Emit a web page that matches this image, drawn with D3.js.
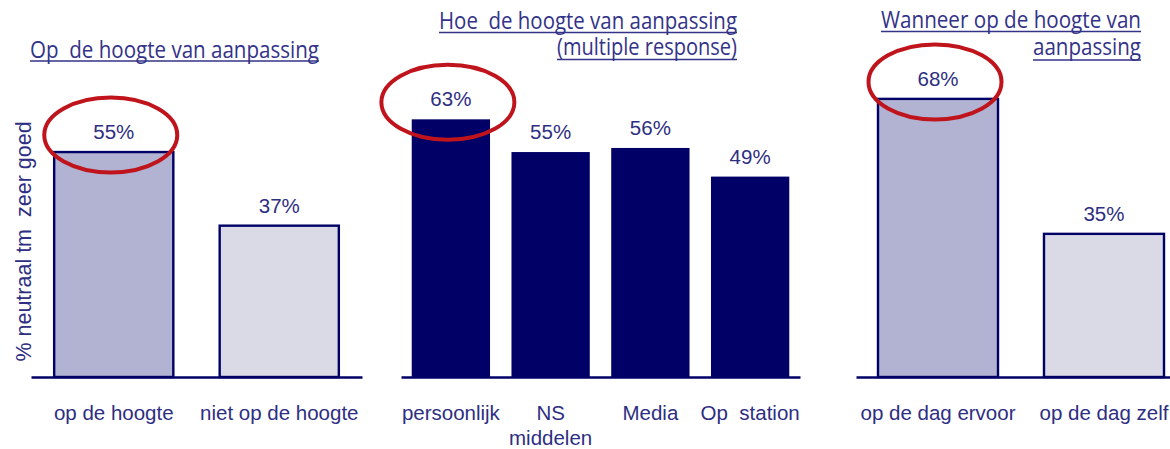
<!DOCTYPE html>
<html>
<head>
<meta charset="utf-8">
<script src="https://cdn.jsdelivr.net/npm/d3@7/dist/d3.min.js"></script>
<style>
  html, body { margin: 0; padding: 0; background: #ffffff; }
  svg { display: block; }
</style>
</head>
<body>
<svg id="chart" width="1170" height="449"></svg>
<script>
// ---- data ----
const cats1 = ["op de hoogte", "niet op de hoogte"];
const vals1 = [55, 37];
const title1 = ["Op  de hoogte van aanpassing"];

const cats2 = ["persoonlijk", "NS\nmiddelen", "Media", "Op  station"];
const vals2 = [63, 55, 56, 49];
const title2 = ["Hoe  de hoogte van aanpassing", "(multiple response)"];

const cats3 = ["op de dag ervoor", "op de dag zelf"];
const vals3 = [68, 35];
const title3 = ["Wanneer op de hoogte van", "aanpassing"];

const yLabel = "% neutraal tm  zeer goed";
const highlighted = ["op de hoogte", "persoonlijk", "op de dag ervoor"];

// ---- style ----
const NAVY = "#000066";
const TEXT = "#2E2E82";
const TITLE = "#333388";
const RED = "#C0141C";
const fills1 = ["#B2B2D2", "#DADAE7"];
const fills2 = [NAVY, NAVY, NAVY, NAVY];
const fills3 = ["#B2B2D2", "#DADAE7"];

const svg = d3.select("#chart");
const baseY = 377;
const y = d3.scaleLinear().domain([0, 100]).range([baseY, baseY - 409]);

const panels = [
  { cats: cats1, vals: vals1, fills: fills1, range: [31, 362], pi: 0.28, po: 0.14, stroke: 2.4,
    title: title1, tAnchor: "start", tx: 30, tBase: [58], tUnder: [61], tWidth: [289] },
  { cats: cats2, vals: vals2, fills: fills2, range: [401, 800], pi: 0.215, po: 0.1075, stroke: 0,
    title: title2, tAnchor: "end", tx: 737, tBase: [29, 55], tUnder: [32.5, 59.5], tWidth: [298, 180] },
  { cats: cats3, vals: vals3, fills: fills3, range: [856, 1186], pi: 0.277, po: 0.1325, stroke: 2.4,
    title: title3, tAnchor: "end", tx: 1141, tBase: [28, 55], tUnder: [31.5, 60], tWidth: [260, 108] }
];

panels.forEach(p => {
  const x = d3.scaleBand().domain(p.cats).range(p.range).paddingInner(p.pi).paddingOuter(p.po);
  const g = svg.append("g");
  const data = p.cats.map((c, i) => ({ c, v: p.vals[i], f: p.fills[i] }));

  // bars
  g.selectAll("rect.bar").data(data).enter().append("rect")
    .attr("class", "bar")
    .attr("x", d => x(d.c))
    .attr("y", d => y(d.v))
    .attr("width", x.bandwidth())
    .attr("height", d => y(0) - y(d.v))
    .attr("fill", d => d.f)
    .attr("stroke", NAVY)
    .attr("stroke-width", p.stroke ? p.stroke : 0);

  // value labels
  g.selectAll("text.val").data(data).enter().append("text")
    .attr("class", "val")
    .attr("x", d => x(d.c) + x.bandwidth() / 2)
    .attr("y", d => y(d.v) - 13)
    .attr("text-anchor", "middle")
    .attr("font-family", "Liberation Sans, Arial, sans-serif")
    .attr("font-size", 20.5)
    .attr("fill", TEXT)
    .text(d => d.v + "%");

  // highlight ellipses
  g.selectAll("ellipse").data(data.filter(d => highlighted.includes(d.c))).enter().append("ellipse")
    .attr("cx", d => x(d.c) + x.bandwidth() / 2 - 3)
    .attr("cy", d => y(d.v) - 17)
    .attr("rx", 66.5)
    .attr("ry", 37.5)
    .attr("fill", "none")
    .attr("stroke", RED)
    .attr("stroke-width", 4);

  // axis
  const axis = d3.axisBottom(x).tickSize(0).tickSizeOuter(0);
  const ag = g.append("g").attr("transform", `translate(0,${baseY})`).call(axis);
  ag.select(".domain").attr("stroke", NAVY).attr("stroke-width", 2.5);
  ag.selectAll(".tick text")
    .attr("font-family", "Liberation Sans, Arial, sans-serif")
    .attr("font-size", 20.5)
    .attr("fill", TEXT)
    .attr("dy", null)
    .attr("y", 43)
    .style("white-space", "pre")
    .each(function(d) {
      const t = d3.select(this);
      const lines = d.split("\n");
      t.text(null);
      lines.forEach((ln, i) => {
        t.append("tspan").attr("x", 0).attr("dy", i === 0 ? 0 : 25).text(ln);
      });
    });

  // titles
  p.title.forEach((ln, i) => {
    g.append("text")
      .attr("x", p.tx)
      .attr("y", p.tBase[i])
      .attr("text-anchor", p.tAnchor)
      .attr("font-family", "Open Sans, Noto Sans, sans-serif")
      .attr("font-size", 23)
      .attr("fill", TITLE)
      .style("white-space", "pre")
      .attr("textLength", p.tWidth[i])
      .attr("lengthAdjust", "spacingAndGlyphs")
      .text(ln);
    const x0 = p.tAnchor === "start" ? p.tx : p.tx - p.tWidth[i];
    g.append("line")
      .attr("x1", x0).attr("x2", x0 + p.tWidth[i])
      .attr("y1", p.tUnder[i]).attr("y2", p.tUnder[i])
      .attr("stroke", TITLE).attr("stroke-width", 1.3);
  });
});

// y axis label
svg.append("text")
  .attr("transform", "translate(31,241.5) rotate(-90)")
  .attr("text-anchor", "middle")
  .attr("font-family", "Liberation Sans, Arial, sans-serif")
  .attr("font-size", 21.5)
  .attr("fill", TEXT)
  .style("white-space", "pre")
  .text(yLabel);
</script>
</body>
</html>
